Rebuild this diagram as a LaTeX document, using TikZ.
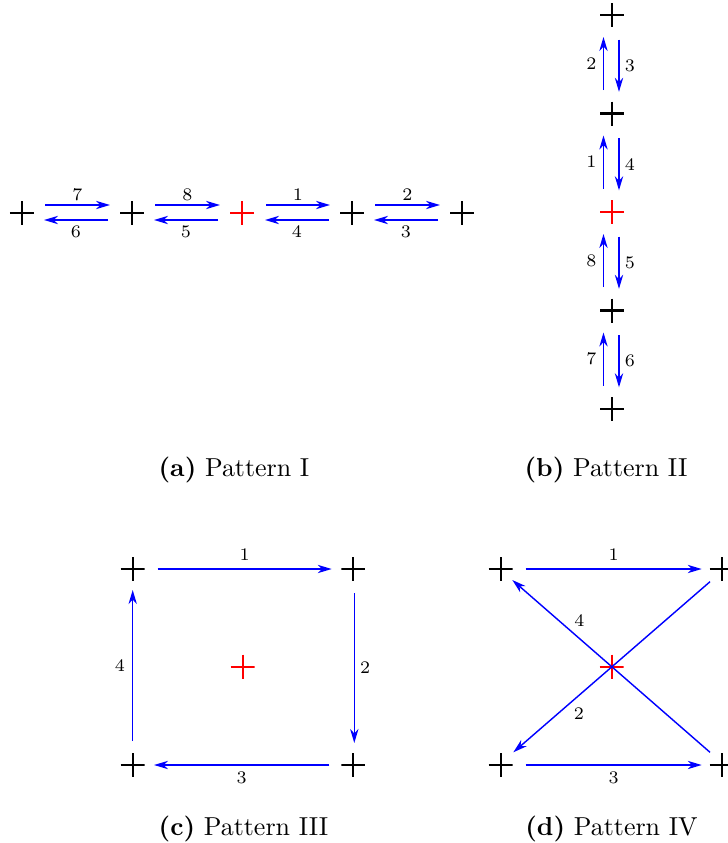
\documentclass[tikz,border=0pt]{standalone}
\usetikzlibrary{arrows.meta}
\begin{document}
\begin{tikzpicture}[x=0.385pt,y=-0.385pt,
  pm/.style={inner sep=0pt, outer sep=0pt, minimum size=9.24pt,
    path picture={\draw[line width=0.78pt,#1]
      (path picture bounding box.north) -- (path picture bounding box.south)
      (path picture bounding box.west) -- (path picture bounding box.east);}},
  pm/.default=black,
  arr/.style={blue, line width=0.55pt, -{Stealth[length=5.4pt,width=3.2pt,inset=1.7pt]}},
  lbl/.style={font=\fontsize{6.8}{8}\selectfont, inner sep=0pt, text=black},
  captext/.style={font=\fontsize{10}{12}\selectfont, inner sep=0pt}]
\useasboundingbox (0,0) rectangle (728,843);

% ---------- Pattern I ----------
\node[pm] (a1) at (22,213) {};
\node[pm] (a2) at (132,213) {};
\node[pm=red] (a0) at (242,213) {};
\node[pm] (a3) at (352,213) {};
\node[pm] (a4) at (462,213) {};
\draw[arr] ([shift={(23,-8)}]a1.center) -- node[lbl,yshift=3.85pt]{7} ([shift={(-22,-8)}]a2.center);
\draw[arr] ([shift={(-24,7)}]a2.center) -- node[lbl,yshift=-4.6pt]{6} ([shift={(22,7)}]a1.center);
\draw[arr] ([shift={(23,-8)}]a2.center) -- node[lbl,yshift=3.85pt]{8} ([shift={(-22,-8)}]a0.center);
\draw[arr] ([shift={(-24,7)}]a0.center) -- node[lbl,yshift=-4.6pt]{5} ([shift={(22,7)}]a2.center);
\draw[arr] ([shift={(24,-8)}]a0.center) -- node[lbl,yshift=3.85pt]{1} ([shift={(-22,-8)}]a3.center);
\draw[arr] ([shift={(-23,7)}]a3.center) -- node[lbl,yshift=-4.6pt]{4} ([shift={(23,7)}]a0.center);
\draw[arr] ([shift={(23,-8)}]a3.center) -- node[lbl,yshift=3.85pt]{2} ([shift={(-22,-8)}]a4.center);
\draw[arr] ([shift={(-24,7)}]a4.center) -- node[lbl,yshift=-4.6pt]{3} ([shift={(22,7)}]a3.center);
\node[captext] (capa) at (234,470) {\textbf{(a)} Pattern I};

% ---------- Pattern II ----------
\node[pm] (b4) at (612,15) {};
\node[pm] (b3) at (612,113.5) {};
\node[pm=red] (b0) at (612,212) {};
\node[pm] (b5) at (612,310.5) {};
\node[pm] (b6) at (612,409) {};
\draw[arr] ([shift={(-8.5,-23.5)}]b3.center) -- node[lbl,xshift=-4.7pt]{2} ([shift={(-8.5,22)}]b4.center);
\draw[arr] ([shift={(7,24.5)}]b4.center) -- node[lbl,xshift=4.2pt]{3} ([shift={(7,-21.7)}]b3.center);
\draw[arr] ([shift={(-8.5,-23.5)}]b0.center) -- node[lbl,xshift=-4.7pt]{1} ([shift={(-8.5,22)}]b3.center);
\draw[arr] ([shift={(7,24.5)}]b3.center) -- node[lbl,xshift=4.2pt]{4} ([shift={(7,-21.7)}]b0.center);
\draw[arr] ([shift={(-8.5,-23.5)}]b5.center) -- node[lbl,xshift=-4.7pt]{8} ([shift={(-8.5,22)}]b0.center);
\draw[arr] ([shift={(7,24.5)}]b0.center) -- node[lbl,xshift=4.2pt]{5} ([shift={(7,-21.7)}]b5.center);
\draw[arr] ([shift={(-8.5,-23.5)}]b6.center) -- node[lbl,xshift=-4.7pt]{7} ([shift={(-8.5,22)}]b5.center);
\draw[arr] ([shift={(7,24.5)}]b5.center) -- node[lbl,xshift=4.2pt]{6} ([shift={(7,-21.7)}]b6.center);
\node[captext] (capb) at (606,470) {\textbf{(b)} Pattern II};

% ---------- Pattern III ----------
\node[pm] (c1) at (132.7,569) {};
\node[pm] (c2) at (353.3,569) {};
\node[pm] (c3) at (353.3,765) {};
\node[pm] (c4) at (132.7,765) {};
\node[pm=red] (c0) at (242.7,666.7) {};
\draw[arr] ([xshift=25*0.385pt]c1.center) -- node[lbl,yshift=5.4pt]{1} ([xshift=-21.6*0.385pt]c2.center);
\draw[arr] ([shift={(1,24)}]c2.center) -- node[lbl,xshift=4.2pt]{2} ([shift={(1,-22)}]c3.center);
\draw[arr] ([xshift=-24*0.385pt]c3.center) -- node[lbl,yshift=-5pt]{3} ([xshift=21.3*0.385pt]c4.center);
\draw[arr] ([yshift=24*0.385pt]c4.center) -- node[lbl,xshift=-4.9pt]{4} ([yshift=-21*0.385pt]c1.center);
\node[captext] (capc) at (243.5,828.5) {\textbf{(c)} Pattern III};

% ---------- Pattern IV ----------
\node[pm] (d1) at (500.7,569) {};
\node[pm] (d2) at (721.7,569) {};
\node[pm] (d3) at (721.7,765) {};
\node[pm] (d4) at (500.7,765) {};
\node[pm=red] (d0) at (611.7,666.7) {};
\draw[arr] ([xshift=25*0.385pt]d1.center) -- node[lbl,yshift=5.4pt]{1} ([xshift=-20*0.385pt]d2.center);
\draw[arr] ([xshift=25*0.385pt]d4.center) -- node[lbl,yshift=-5pt]{3} ([xshift=-20*0.385pt]d3.center);
\draw[arr] ([shift={(-11.7,-12.7)}]d3.center) -- node[lbl,pos=0.66,yshift=6.9pt]{4} ([shift={(11.6,11)}]d1.center);
\draw[arr] ([shift={(-11.7,12.7)}]d2.center) -- node[lbl,pos=0.666,yshift=-7.2pt]{2} ([shift={(12.6,-12.7)}]d4.center);
\node[captext] (capd) at (611.5,828.5) {\textbf{(d)} Pattern IV};
\end{tikzpicture}
\end{document}
